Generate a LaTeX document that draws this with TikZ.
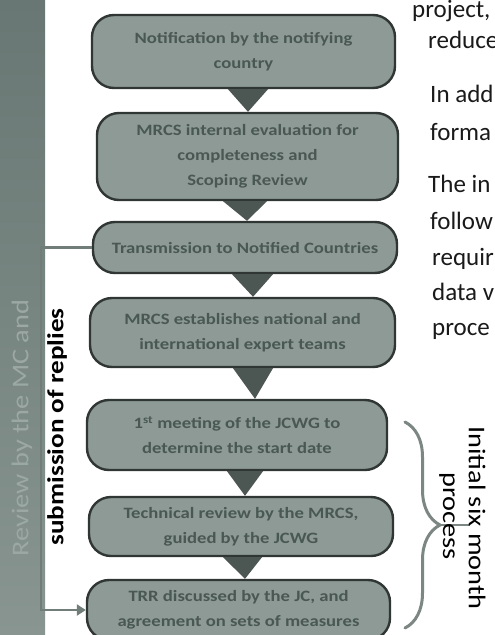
\documentclass[tikz,border=0pt]{standalone}
\usepackage{fontspec}
\setmainfont{Carlito}
\newfontfamily\diagfont[FakeStretch=1.18]{Carlito}
\usetikzlibrary{decorations.pathreplacing,arrows.meta}

\definecolor{bartop}{RGB}{104,119,115}
\definecolor{barbottom}{RGB}{136,149,145}
\definecolor{bartext}{RGB}{156,168,164}
\definecolor{boxfill}{RGB}{141,154,150}
\definecolor{boxline}{RGB}{48,54,52}
\definecolor{boxtext}{RGB}{74,88,84}
\definecolor{trifill}{RGB}{76,86,83}
\definecolor{linkcol}{RGB}{112,125,121}
\definecolor{bracecol}{RGB}{124,134,131}
\definecolor{bodytext}{RGB}{26,26,26}

\begin{document}
\begin{tikzpicture}[x=1pt,y=-1pt,
  stepbox/.style={draw=boxline, line width=2.4pt, fill=boxfill,
    rounded corners=22pt, align=center, text=boxtext, inner sep=0pt,
    font=\diagfont\bfseries\fontsize{15.8}{25}\selectfont},
  dropmark/.style={fill=trifill},
  link/.style={draw=linkcol, line width=2.5pt},
  bodyline/.style={anchor=base west, inner sep=0pt, text=bodytext,
    font=\fontsize{25}{30}\selectfont},
  sidelabel/.style={inner sep=0pt, font=\diagfont\fontsize{24}{28}\selectfont}
]
\useasboundingbox (0,0) rectangle (495,635);
\clip (0,0) rectangle (495,635);
\fill[white] (0,0) rectangle (495,635);

% side bar
\shade[top color=bartop, bottom color=barbottom] (0,0) rectangle (45,635);
\node[sidelabel, text=bartext, rotate=90] (rev) at (22,428) {Review by the MC and};
\node[sidelabel, text=black, rotate=90, font=\diagfont\bfseries\fontsize{23}{28}\selectfont]
  (sub) at (57,427) {submission of replies};

% process steps
\node[stepbox, minimum width=303pt, minimum height=73pt] (n1) at (243.5,51.5)
  {Notification by the notifying\\country};
\node[stepbox, minimum width=301pt, minimum height=87pt] (n2) at (247.5,156.5)
  {MRCS internal evaluation for\\completeness and\\Scoping Review};
\node[stepbox, minimum width=304pt, minimum height=51pt] (n3) at (245,247.5)
  {Transmission to Notified Countries};
\node[stepbox, minimum width=305pt, minimum height=69pt] (n4) at (242.5,332.5)
  {MRCS establishes national and\\international expert teams};
\node[stepbox, minimum width=300pt, minimum height=70pt] (n5) at (237,435)
  {1\textsuperscript{st} meeting of the JCWG to\\determine the start date};
\node[stepbox, minimum width=304pt, minimum height=59pt] (n6) at (241,526.5)
  {Technical review by the MRCS,\\guided by the JCWG};
\node[stepbox, minimum width=303pt, minimum height=60pt] (n7) at (238.5,610)
  {TRR discussed by the JC, and\\agreement on sets of measures};

% downward markers between steps
\fill[dropmark] (228,0 |- n1.south) -- (268,0 |- n1.south) -- (248,0 |- n2.north) -- cycle;
\fill[dropmark] (223,0 |- n2.south) -- (267,0 |- n2.south) -- (247,0 |- n3.north) -- cycle;
\fill[dropmark] (232,0 |- n3.south) -- (273,0 |- n3.south) -- (253,0 |- n4.north) -- cycle;
\fill[dropmark] (233,0 |- n4.south) -- (273,0 |- n4.south) -- (255,0 |- n5.north) -- cycle;
\fill[dropmark] (227,0 |- n5.south) -- (263,0 |- n5.south) -- (245,0 |- n6.north) -- cycle;
\fill[dropmark] (223,0 |- n6.south) -- (262,0 |- n6.south) -- (245,0 |- n7.north) -- cycle;

% feedback loop along the side bar
\coordinate (rail) at (41,0);
\draw[link, -{Triangle[length=9pt,width=11pt]}]
  (n3.west) -| (rail |- n7.west) -- (n7.west);

% brace over the last three steps
\draw[draw=bracecol, line width=3pt, line cap=round,
  decorate, decoration={brace, amplitude=35pt}] (405,422) -- (405,628);
\coordinate (btip) at (440,525);
\coordinate (bend) at (470,525);
\draw[draw=bracecol, line width=2pt] (btip) -- (bend);
\node[sidelabel, text=black, rotate=-90] (ini) at (477,518) {Initial six month};
\node[sidelabel, text=black, rotate=-90] (pro) at (447,516) {process};

% running text beside the figure
\node[bodyline] (t1) at (412,17)  {project,};
\node[bodyline] (t2) at (428,48)  {reduce};
\node[bodyline] (t3) at (430,102) {In add};
\node[bodyline] (t4) at (430,140) {forma};
\node[bodyline] (t5) at (428,192) {The in};
\node[bodyline] (t6) at (430,229) {follow};
\node[bodyline] (t7) at (432,265) {requir};
\node[bodyline] (t8) at (432,300) {data v};
\node[bodyline] (t9) at (432,335) {proce};
\end{tikzpicture}
\end{document}
